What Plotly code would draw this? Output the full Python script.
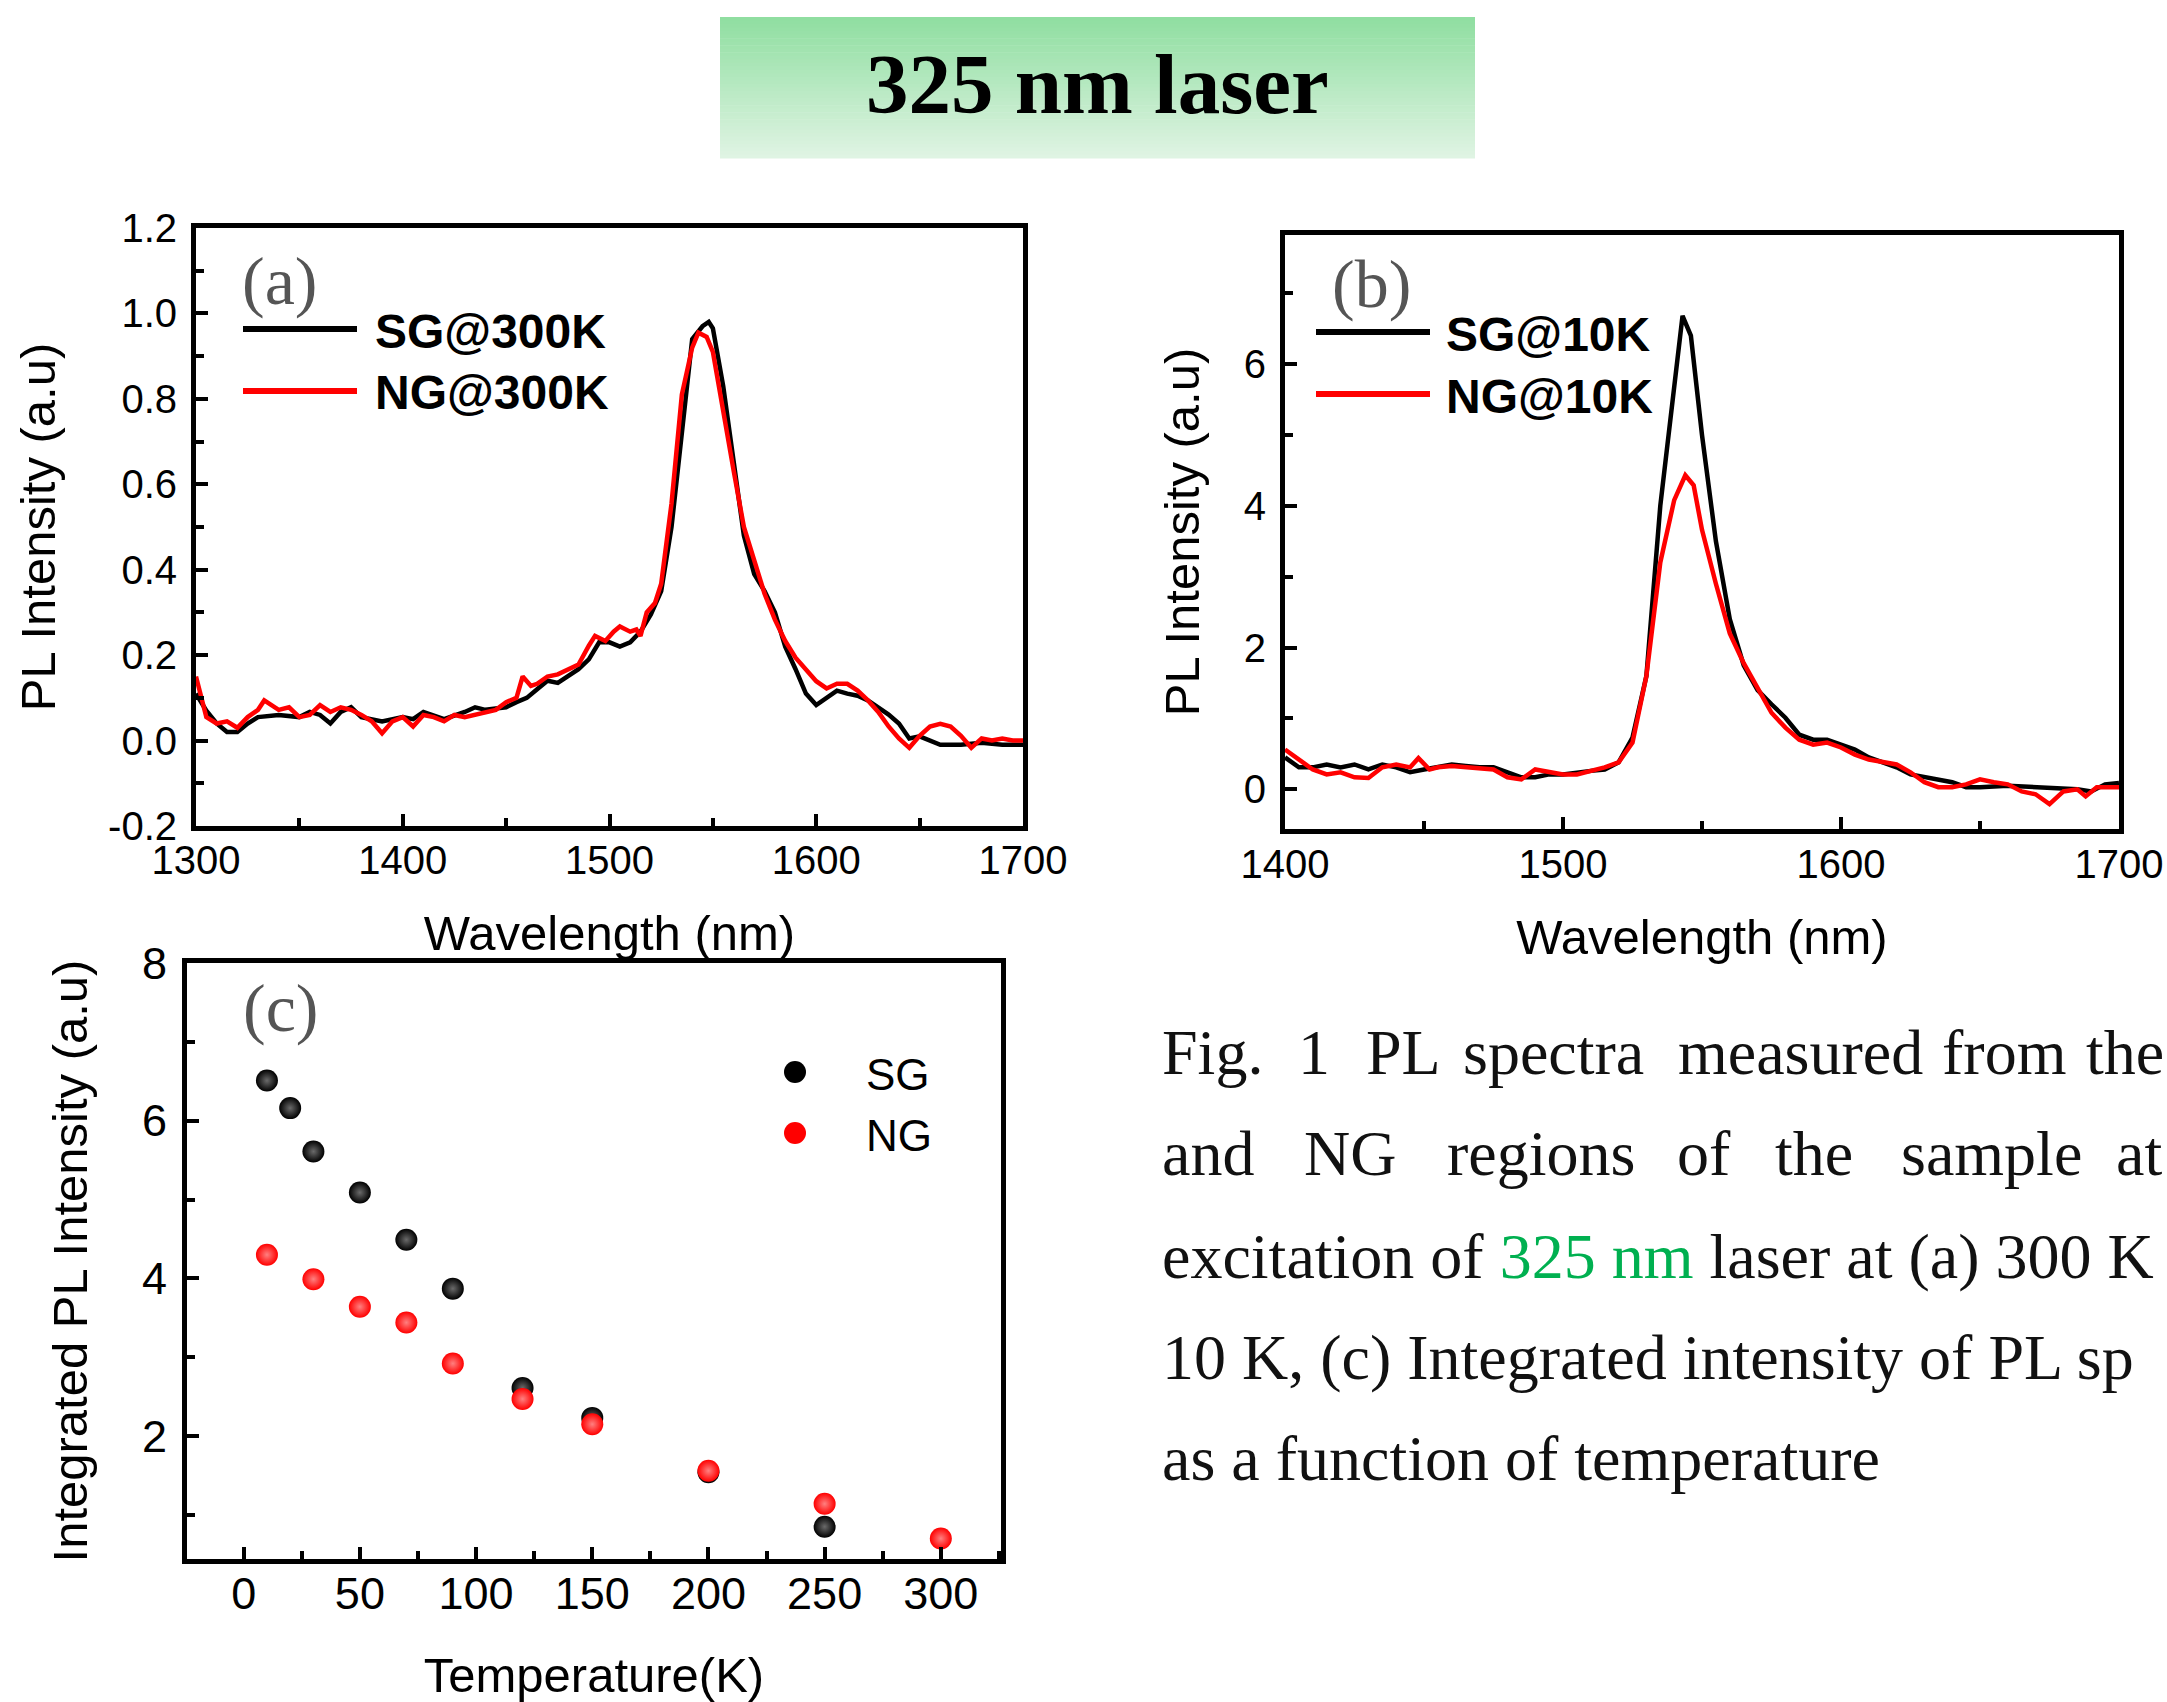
import plotly.graph_objects as go

# ---------------- data ----------------
wl_sg300 = [1300,1305,1310,1315,1320,1325,1330,1340,1350,1355,1360,1365,1370,1375,1380,1385,1390,
            1400,1405,1410,1420,1430,1435,1440,1450,1455,1460,1465,1470,1475,1480,1485,1490,1495,1500,
            1505,1510,1515,1520,1525,1530,1535,1540,1545,1548,1550,1555,1560,1565,1570,1575,1580,1585,
            1590,1595,1600,1605,1610,1615,1620,1625,1630,1635,1640,1645,1650,1655,1660,1670,1680,1690,1700]
sg300 = [0.11,0.07,0.04,0.02,0.02,0.04,0.055,0.06,0.055,0.067,0.06,0.04,0.067,0.078,0.055,0.05,0.045,
         0.055,0.05,0.067,0.05,0.067,0.078,0.072,0.078,0.09,0.10,0.12,0.14,0.135,0.15,0.167,0.19,0.23,0.23,
         0.22,0.23,0.255,0.295,0.35,0.50,0.72,0.94,0.97,0.98,0.965,0.83,0.655,0.48,0.39,0.35,0.30,0.22,
         0.167,0.11,0.083,0.10,0.117,0.11,0.105,0.094,0.078,0.061,0.04,0.005,0.01,0.0,-0.01,-0.01,-0.005,-0.01,-0.01]

wl_ng300 = [1300,1305,1310,1315,1320,1325,1330,1333,1340,1345,1350,1355,1360,1365,1370,1375,1380,1385,
            1390,1395,1400,1405,1410,1415,1420,1425,1430,1440,1445,1450,1455,1458,1462,1465,1470,1475,
            1480,1485,1490,1493,1498,1502,1505,1510,1513,1515,1518,1522,1525,1530,1535,1540,1543,1547,
            1550,1555,1560,1565,1570,1575,1580,1585,1590,1595,1600,1605,1610,1615,1620,1625,1630,1635,
            1640,1645,1650,1655,1660,1665,1670,1675,1680,1685,1690,1695,1700]
ng300 = [0.15,0.055,0.04,0.045,0.03,0.055,0.072,0.094,0.072,0.078,0.055,0.06,0.083,0.067,0.078,0.072,0.06,0.045,
         0.017,0.045,0.055,0.033,0.06,0.055,0.045,0.06,0.055,0.067,0.072,0.09,0.10,0.15,0.128,0.133,0.15,0.155,
         0.167,0.178,0.222,0.245,0.233,0.255,0.267,0.255,0.26,0.245,0.30,0.322,0.367,0.555,0.81,0.92,0.955,0.945,
         0.91,0.765,0.633,0.50,0.42,0.344,0.283,0.233,0.194,0.167,0.139,0.122,0.133,0.133,0.117,0.094,0.067,0.033,
         0.005,-0.017,0.011,0.033,0.039,0.033,0.011,-0.017,0.005,0.0,0.005,0.0,0.0]

wl_sg10 = [1400,1405,1410,1415,1420,1425,1430,1435,1440,1445,1450,1455,1460,1465,1470,1475,1480,1485,
           1490,1495,1500,1505,1510,1515,1520,1525,1530,1535,1540,1543,1546,1550,1555,1560,1565,1570,
           1575,1580,1585,1590,1595,1600,1605,1610,1615,1620,1625,1630,1635,1640,1645,1650,1660,1670,
           1680,1685,1690,1695,1700]
sg10 = [0.45,0.31,0.31,0.35,0.31,0.35,0.28,0.35,0.31,0.24,0.28,0.31,0.35,0.33,0.31,0.31,0.24,0.17,
        0.17,0.21,0.21,0.24,0.26,0.28,0.38,0.73,1.6,4.0,5.6,6.68,6.4,5.0,3.5,2.4,1.75,1.4,
        1.2,1.01,0.77,0.7,0.7,0.63,0.56,0.45,0.38,0.31,0.21,0.17,0.14,0.10,0.03,0.03,0.05,0.03,
        0.0,0.0,-0.03,0.07,0.09]

wl_ng10 = [1400,1405,1410,1415,1420,1425,1430,1435,1440,1445,1448,1452,1455,1460,1465,1470,1475,1480,
           1485,1490,1495,1500,1505,1510,1515,1520,1525,1530,1535,1540,1544,1547,1550,1555,1560,1565,
           1570,1575,1580,1585,1590,1595,1600,1605,1610,1615,1620,1625,1630,1635,1640,1645,1650,1655,
           1660,1665,1670,1675,1680,1685,1688,1692,1700]
ng10 = [0.56,0.42,0.28,0.21,0.24,0.17,0.16,0.31,0.35,0.31,0.44,0.28,0.31,0.33,0.31,0.30,0.28,0.17,
        0.14,0.28,0.24,0.21,0.21,0.26,0.31,0.38,0.66,1.6,3.2,4.08,4.43,4.29,3.66,2.9,2.2,1.78,
        1.43,1.08,0.87,0.70,0.63,0.66,0.59,0.49,0.42,0.38,0.35,0.24,0.10,0.03,0.03,0.07,0.14,0.10,
        0.07,-0.03,-0.07,-0.21,-0.03,0.0,-0.10,0.03,0.03]

temps_sg = [10, 20, 30, 50, 70, 90, 120, 150, 200, 250]
int_sg = [6.51, 6.16, 5.61, 5.09, 4.49, 3.87, 2.61, 2.23, 1.54, 0.85]
temps_ng = [10, 30, 50, 70, 90, 120, 150, 200, 250, 300]
int_ng = [4.30, 3.99, 3.64, 3.44, 2.92, 2.47, 2.15, 1.56, 1.14, 0.70]

ya_ticks = [-0.2, 0.0, 0.2, 0.4, 0.6, 0.8, 1.0, 1.2]
ya_ticktext = ["-0.2", "0.0", "0.2", "0.4", "0.6", "0.8", "1.0", "1.2"]

legend_a = ["SG@300K", "NG@300K"]
legend_b = ["SG@10K", "NG@10K"]
legend_c = ["SG", "NG"]
panel_labels = ["(a)", "(b)", "(c)"]

BLACK = "#000000"
RED = "#ff0000"
W, H = 2167, 1702
LW = 4.5
MS = 22

def px(x):
    return x / W

def py(y):
    return 1 - y / H

fig = go.Figure()

# panel (a)
fig.add_trace(go.Scatter(x=wl_sg300, y=sg300, mode="lines", line=dict(color=BLACK, width=LW),
                         xaxis="x", yaxis="y", showlegend=False, name=legend_a[0]))
fig.add_trace(go.Scatter(x=wl_ng300, y=ng300, mode="lines", line=dict(color=RED, width=LW),
                         xaxis="x", yaxis="y", showlegend=False, name=legend_a[1]))
# panel (b)
fig.add_trace(go.Scatter(x=wl_sg10, y=sg10, mode="lines", line=dict(color=BLACK, width=LW),
                         xaxis="x2", yaxis="y2", showlegend=False, name=legend_b[0]))
fig.add_trace(go.Scatter(x=wl_ng10, y=ng10, mode="lines", line=dict(color=RED, width=LW),
                         xaxis="x2", yaxis="y2", showlegend=False, name=legend_b[1]))
# panel (c)
fig.add_trace(go.Scatter(x=temps_sg, y=int_sg, mode="markers", xaxis="x3", yaxis="y3",
                         marker=dict(size=MS, color=BLACK, line=dict(width=0),
                                     gradient=dict(type="radial", color="#6a6a6a")),
                         showlegend=False, name=legend_c[0]))
fig.add_trace(go.Scatter(x=temps_ng, y=int_ng, mode="markers", xaxis="x3", yaxis="y3",
                         marker=dict(size=MS, color=RED, line=dict(width=0),
                                     gradient=dict(type="radial", color="#ff8080")),
                         showlegend=False, name=legend_c[1]))

tickfont = dict(family="Liberation Sans, Arial", size=40, color="black")
titlefont = dict(family="Liberation Sans, Arial", size=49, color="black")
bigtick = dict(family="Liberation Sans, Arial", size=45, color="black")


def axis(domain, rng, dtick, minor_dtick, title, standoff, anchor, tickvals=None, ticktext=None,
         tfont=tickfont, lab_off=6):
    d = dict(domain=domain, range=rng, anchor=anchor, automargin=False,
             showline=True, linecolor="black", linewidth=5, mirror=True,
             ticks="inside", ticklen=12, tickwidth=4, tickcolor="black", showgrid=False, zeroline=False,
             tickfont=tfont, ticklabelstandoff=lab_off,
             minor=dict(ticks="inside", ticklen=8, tickwidth=4, tickcolor="black", dtick=minor_dtick,
                        tick0=0, showgrid=False),
             title=dict(text=title, font=titlefont, standoff=standoff))
    if tickvals is not None:
        d["tickmode"] = "array"
        d["tickvals"] = tickvals
        if ticktext is not None:
            d["ticktext"] = ticktext
    else:
        d["dtick"] = dtick
        d["tick0"] = 0
    return d


fig.update_layout(
    width=W, height=H, autosize=False,
    margin=dict(l=0, r=0, t=0, b=0, pad=0),
    paper_bgcolor="white", plot_bgcolor="white",
    xaxis=axis([px(196), px(1023)], [1300, 1700], 100, 50, "Wavelength (nm)", 36, "y", lab_off=-5),
    yaxis=axis([py(826), py(228)], [-0.2, 1.2], 0.2, 0.1, "PL Intensity (a.u)", 38, "x",
               tickvals=ya_ticks, ticktext=ya_ticktext),
    xaxis2=axis([px(1285), px(2119)], [1400, 1700], 100, 50, "Wavelength (nm)", 36, "y2", lab_off=-4),
    yaxis2=axis([py(829), py(235)], [-0.56, 7.82], 2, 1, "PL Intensity (a.u)", 30, "x2"),
    xaxis3=axis([px(187), px(1001)], [-24.4, 325.9], 50, 25, "Temperature(K)", 50, "y3",
                tfont=bigtick, lab_off=-9),
    yaxis3=axis([py(1559), py(963)], [0.44, 8.001], 2, 1, "Integrated PL Intensity (a.u)", 40, "x3",
                tickvals=[2, 4, 6, 8], tfont=bigtick),
)

shapes = []
annotations = []

# title banner with vertical gradient
top_rgb = (143, 222, 160)
bot_rgb = (224, 244, 228)
n_bands = 40
y_top, y_bot = 17, 158
for i in range(n_bands):
    t = (i + 0.5) / n_bands
    c = tuple(int(round(top_rgb[k] + (bot_rgb[k] - top_rgb[k]) * t)) for k in range(3))
    ya = y_top + (y_bot - y_top) * i / n_bands
    yb = y_top + (y_bot - y_top) * (i + 1) / n_bands
    shapes.append(dict(type="rect", xref="paper", yref="paper", x0=px(720), x1=px(1475),
                       y0=py(yb + 0.6), y1=py(ya), fillcolor="rgb(%d,%d,%d)" % c,
                       line=dict(width=0), layer="below"))
annotations.append(dict(text="<b>325 nm laser</b>", x=px(1097), y=py(84), xref="paper", yref="paper",
                        showarrow=False, xanchor="center", yanchor="middle",
                        font=dict(family="Liberation Serif, Times New Roman", size=85, color="black")))

# panel labels
for lab, (cx, cy) in zip(panel_labels, [(279, 281), (1371, 284), (280, 1008)]):
    annotations.append(dict(text=lab, x=px(cx), y=py(cy), xref="paper", yref="paper", showarrow=False,
                            xanchor="center", yanchor="middle",
                            font=dict(family="Liberation Serif, Times New Roman", size=68, color="#555555")))

# legends for (a) and (b): line keys + bold labels
legfont = dict(family="Liberation Sans, Arial", size=48, color="black")
for names, (lx0, lx1, tx), ys in [(legend_a, (243, 357, 373), (329, 391)),
                                   (legend_b, (1316, 1430, 1444), (332, 394))]:
    for name, col, yy in zip(names, [BLACK, RED], ys):
        shapes.append(dict(type="line", xref="paper", yref="paper", x0=px(lx0), x1=px(lx1),
                           y0=py(yy), y1=py(yy), line=dict(color=col, width=6)))
        annotations.append(dict(text="<b>%s</b>" % name, x=px(tx), y=py(yy + 2), xref="paper", yref="paper",
                                showarrow=False, xanchor="left", yanchor="middle", font=legfont))

# legend for (c): marker keys + labels
for name, col, yy in zip(legend_c, [BLACK, RED], (1072, 1133)):
    shapes.append(dict(type="circle", xref="paper", yref="paper", x0=px(795 - 11), x1=px(795 + 11),
                       y0=py(yy + 11), y1=py(yy - 11), fillcolor=col, line=dict(width=0)))
    annotations.append(dict(text=name, x=px(864), y=py(yy + 2), xref="paper", yref="paper",
                            showarrow=False, xanchor="left", yanchor="middle",
                            font=dict(family="Liberation Sans, Arial", size=44, color="black")))

# caption (justified first two lines placed word by word)
capfont = dict(family="Liberation Serif, Times New Roman", size=64, color="#111111")
line1 = [("Fig.", 1160), ("1", 1296), ("PL", 1364), ("spectra", 1461), ("measured", 1676),
         ("from", 1940), ("the", 2084)]
line2 = [("and", 1160), ("NG", 1302), ("regions", 1445), ("of", 1675), ("the", 1773),
         ("sample", 1899), ("at", 2114)]
baselines = [1072, 1173, 1276, 1377, 1478]
for words, bl in [(line1, baselines[0]), (line2, baselines[1])]:
    for w, x in words:
        annotations.append(dict(text=w, x=px(x), y=py(bl - 20), xref="paper", yref="paper",
                                showarrow=False, xanchor="left", yanchor="middle", font=capfont))
other_lines = [
    'excitation of <span style="color:#00b050">325 nm</span> laser at (a) 300 K',
    "10 K, (c) Integrated intensity of PL sp",
    "as a function of temperature",
]
for txt, bl in zip(other_lines, baselines[2:]):
    annotations.append(dict(text=txt, x=px(1160), y=py(bl - 20), xref="paper", yref="paper",
                            showarrow=False, xanchor="left", yanchor="middle", font=capfont))

fig.update_layout(shapes=shapes, annotations=annotations)

fig.write_html("out.html", config={"displayModeBar": False},
               post_script="document.body.style.margin='0';document.body.style.overflow='hidden';")
